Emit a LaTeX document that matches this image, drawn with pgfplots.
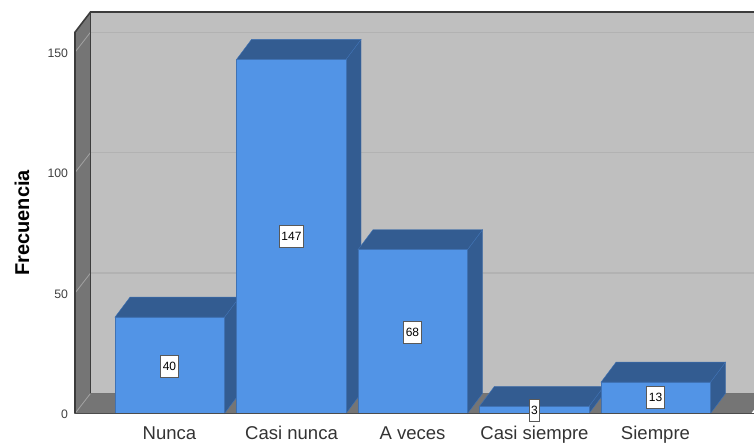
\documentclass[border=0pt]{standalone}
\usepackage{pgfplots}
\pgfplotsset{compat=1.18}
\usepackage{fontspec}
\setmainfont{Liberation Sans}
\definecolor{wallc}{HTML}{BFBFBF}
\definecolor{sidec}{HTML}{757575}
\definecolor{edgec}{HTML}{3C3C3C}
\definecolor{gridc}{HTML}{B2B2B2}
\definecolor{gridl}{HTML}{A2A2A2}
\definecolor{barc}{HTML}{5294E6}
\definecolor{bard}{HTML}{335C91}
\definecolor{bare}{HTML}{3F72B4}
\begin{document}
\begin{tikzpicture}
\useasboundingbox (-56.25pt,-22.875pt) rectangle (509.25pt,310.125pt);
\begin{axis}[
  scale only axis, width=509.25pt, height=301.125pt,
  xmin=75, xmax=754, ymin=0, ymax=166.7,
  clip=false,
  axis line style={draw=none},
  tick style={draw=none},
  ytick={0,50,100,150},
  xtick={169.5,291.5,412.5,534.5,655.5},
  xticklabels={Nunca,Casi nunca,A veces,Casi siempre,Siempre},
  /pgf/number format/assume math mode=true,
  yticklabel style={font=\fontsize{9.2}{11}\selectfont, text=black!75, xshift=-1.7pt, yshift=-0.6pt},
  xticklabel style={font=\fontsize{13.9}{16}\selectfont, text=black!80, text height=10pt, text depth=3pt, yshift=-6pt},
  ylabel={\textbf{Frecuencia}},
  every axis y label/.style={at={(axis description cs:-0.078,0.475)},rotate=90,anchor=center,font=\fontsize{15}{18}\selectfont},
]
% back wall
\addplot[fill=wallc,draw=none] coordinates {(90.5,8.31)(754,8.31)(754,166.7)(90.5,166.7)} --cycle;
% left wall
\addplot[fill=sidec,draw=none] coordinates {(75,0)(90.5,8.31)(90.5,166.7)(75,158.3)} --cycle;
% floor
\addplot[fill=sidec,draw=none] coordinates {(75,0)(751,0)(754,1.66)(754,8.31)(90.5,8.31)} --cycle;
% grid on back wall
\addplot[gridc,line width=0.9pt] coordinates {(90.5,58.31)(754,58.31)};
\addplot[gridc,line width=0.9pt] coordinates {(90.5,108.31)(754,108.31)};
\addplot[gridc,line width=0.9pt] coordinates {(90.5,158.31)(754,158.31)};
% grid on left wall
\addplot[gridl,line width=0.6pt] coordinates {(75,50)(90.5,58.31)};
\addplot[gridl,line width=0.6pt] coordinates {(75,100)(90.5,108.31)};
\addplot[gridl,line width=0.6pt] coordinates {(75,150)(90.5,158.31)};
\addplot[gridl,line width=0.6pt] coordinates {(75,0)(90.5,8.31)};
% frame
\addplot[edgec,line width=1.2pt] coordinates {(75,0)(75,158.3)(90.5,166.7)(754,166.7)};
\addplot[edgec,line width=1.2pt] coordinates {(90.5,166.7)(90.5,8.31)};
\addplot[black!55,line width=0.7pt] coordinates {(90.5,8.31)(754,8.31)};
% Nunca
\addplot[fill=bard,draw=bare,line width=0.3pt] coordinates {(224.5,0)(239.5,8.31)(239.5,48.31)(224.5,40)} --cycle;
\addplot[fill=bard,draw=bare,line width=0.3pt] coordinates {(115,40)(130,48.31)(239.5,48.31)(224.5,40)} --cycle;
\addplot[ybar,bar shift=0pt,bar width=82.1pt,fill=barc,draw=bare,line width=0.4pt] coordinates {(169.75,40)};
% Casi nunca
\addplot[fill=bard,draw=bare,line width=0.3pt] coordinates {(346,0)(361,8.31)(361,155.31)(346,147)} --cycle;
\addplot[fill=bard,draw=bare,line width=0.3pt] coordinates {(236.5,147)(251.5,155.31)(361,155.31)(346,147)} --cycle;
\addplot[ybar,bar shift=0pt,bar width=82.1pt,fill=barc,draw=bare,line width=0.4pt] coordinates {(291.25,147)};
% A veces
\addplot[fill=bard,draw=bare,line width=0.3pt] coordinates {(467.5,0)(482.5,8.31)(482.5,76.31)(467.5,68)} --cycle;
\addplot[fill=bard,draw=bare,line width=0.3pt] coordinates {(358,68)(373,76.31)(482.5,76.31)(467.5,68)} --cycle;
\addplot[ybar,bar shift=0pt,bar width=82.1pt,fill=barc,draw=bare,line width=0.4pt] coordinates {(412.75,68)};
% Casi siempre
\addplot[fill=bard,draw=bare,line width=0.3pt] coordinates {(589,0)(604,8.31)(604,11.31)(589,3)} --cycle;
\addplot[fill=bard,draw=bare,line width=0.3pt] coordinates {(479.5,3)(494.5,11.31)(604,11.31)(589,3)} --cycle;
\addplot[ybar,bar shift=0pt,bar width=82.1pt,fill=barc,draw=bare,line width=0.4pt] coordinates {(534.25,3)};
% Siempre
\addplot[fill=bard,draw=bare,line width=0.3pt] coordinates {(710.5,0)(725.5,8.31)(725.5,21.31)(710.5,13)} --cycle;
\addplot[fill=bard,draw=bare,line width=0.3pt] coordinates {(601,13)(616,21.31)(725.5,21.31)(710.5,13)} --cycle;
\addplot[ybar,bar shift=0pt,bar width=82.1pt,fill=barc,draw=bare,line width=0.4pt] coordinates {(655.75,13)};
% base line
\addplot[black!70,line width=1pt] coordinates {(75,0)(754,0)};
% value labels
\addplot[only marks,mark=none,point meta=explicit symbolic,nodes near coords,
  every node near coord/.append style={anchor=center,yshift=0pt,fill=white,draw=black!65,line width=0.7pt,
    font=\fontsize{9}{11}\selectfont,text=black,inner xsep=1.5pt,inner ysep=0pt,minimum height=16.5pt}]
  coordinates {(169.5,19.6)[40] (291.5,73.5)[147] (412.5,33.6)[68] (534.5,1.2)[3] (655.5,6.5)[13]};
\end{axis}
\end{tikzpicture}
\end{document}
